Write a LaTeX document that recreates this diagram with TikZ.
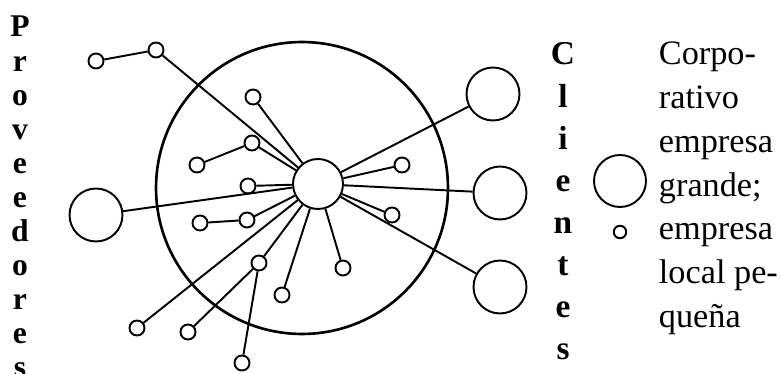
\documentclass[tikz,border=0pt]{standalone}
\usepackage{fontspec}
\setmainfont{Liberation Serif}
\usepackage{tikz}

\begin{document}
\begin{tikzpicture}[x=0.02cm,y=-0.02cm,line width=1.1pt,
		nodo/.style={circle,draw,inner sep=0pt,minimum size=0.3cm},
		grande/.style={circle,draw,inner sep=0pt,minimum size=1.06cm},
		letra/.style={anchor=base,inner sep=0pt,font=\bfseries\fontsize{18}{18}\selectfont},
		texto/.style={anchor=base west,inner sep=0pt,font=\fontsize{19.5}{24}\selectfont}]
			\useasboundingbox (0,0) rectangle (781,374);
			% mercado y nodo central
			\node[circle,draw,line width=1.5pt,inner sep=0pt,minimum size=5.84cm] (anillo) at (302,188) {};
			\node[circle,draw,inner sep=0pt,minimum size=1.0cm] (centro) at (318,184) {};
			% empresas grandes
			\node[grande] (izq) at (96,215) {};
			\node[grande] (d1) at (493,94) {};
			\node[grande] (d2) at (500,193) {};
			\node[grande] (d3) at (500,287) {};
			% empresas pequenas
			\foreach \n/\x/\y in {a1/96/61,a2/156/50,b/253/97,c1/197/165,c2/252/143,e/248/186,
				f1/200/223,f2/247/220,g/137/328,h1/188/332,h2/259/263,h3/242/363,
				k/282/295,m/343/268,n/392/215,q/402/165}
				\node[nodo] (\n) at (\x,\y) {};
			\foreach \n in {a2,b,c2,e,izq,f2,g,h2,k,m,n,q,d1,d2,d3}
				\draw (\n) -- (centro);
			\draw (a1) -- (a2);
			\draw (c1) -- (c2);
			\draw (f1) -- (f2);
			\draw (h1) -- (h2);
			\draw (h3) -- (h2);
			% rotulos verticales
			\foreach \l [count=\i from 0] in {P,r,o,v,e,e,d,o,r,e,s}
				\node[letra] (p\i) at (20,{37+34.1*\i}) {\l};
			\foreach \l [count=\i from 0] in {C,l,i,e,n,t,e,s}
				\node[letra,font=\bfseries\fontsize{19}{19}\selectfont] (c\i) at (563,{65+42.1*\i}) {\l};
			% leyenda
			\node[grande,minimum size=1.04cm] (lg) at (620,181) {};
			\node[nodo,minimum size=0.25cm] (lp) at (620,232) {};
			\foreach \t [count=\i from 0] in {Corpo-,rativo,empresa,{grande;},empresa,local pe-,queña}
				\node[texto] (t\i) at (658,{65+43.7*\i}) {\t};
		\end{tikzpicture}
\end{document}
